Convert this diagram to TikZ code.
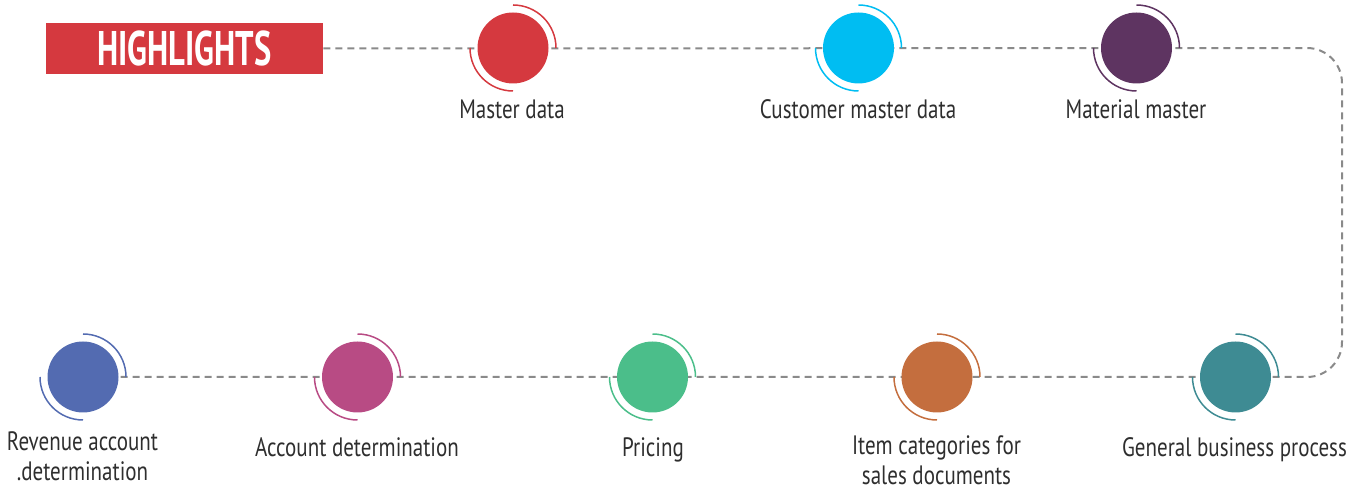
\documentclass[tikz,border=0pt]{standalone}
\usepackage{fontspec}
\usepackage{tikz}
\newfontfamily\labelfont[FakeStretch=0.79]{PT Sans}
\newfontfamily\titlefont[FakeStretch=0.67]{PT Sans}
\definecolor{hlred}{HTML}{D5393F}
\definecolor{cmdcyan}{HTML}{00BDF2}
\definecolor{mmpurple}{HTML}{5E3461}
\definecolor{gbpteal}{HTML}{3E8B93}
\definecolor{icorange}{HTML}{C46E3E}
\definecolor{prgreen}{HTML}{4BBE8A}
\definecolor{admagenta}{HTML}{B84B84}
\definecolor{radblue}{HTML}{536BB1}
\definecolor{labelgray}{HTML}{2E2E2E}
\definecolor{flowgray}{HTML}{8A8A8A}

\begin{document}
\begin{tikzpicture}[x=0.5pt, y=0.5pt,
  flow/.style = {draw=flowgray, line width=1pt,
    dash pattern=on 3.5pt off 2.5pt, rounded corners=17.5pt},
  dot/.style = {shape=circle, fill=#1, minimum size=35.5pt, inner sep=0pt},
  ring/.style = {draw=#1, line width=0.75pt},
  label/.style = {anchor=base, align=center, text=labelgray,
    font=\labelfont\fontsize{13.3}{15}\selectfont},
  title/.style = {shape=rectangle, fill=hlred, text=white,
    minimum width=138.5pt, minimum height=25.5pt, inner sep=0pt,
    font=\titlefont\bfseries\fontsize{24.3}{26}\selectfont}]
  \useasboundingbox (0,0) rectangle (1362,491);

  \node[title] (hl) at (184.5,442.5) {HIGHLIGHTS};

  \coordinate (md)  at (513,443);
  \coordinate (cmd) at (858.5,443);
  \coordinate (mm)  at (1136.5,443);
  \coordinate (gbp) at (1235.5,114);
  \coordinate (ic)  at (937,114);
  \coordinate (pr)  at (652.5,114);
  \coordinate (ad)  at (357.5,114);
  \coordinate (rad) at (83,114);
  \coordinate (bendtop) at (1342,443);
  \coordinate (bendbot) at (1342,114);

  % dashed flow behind the dots
  \draw[flow] (hl.east) -- (bendtop) -- (bendbot) -- ([xshift=18pt]rad);

  \foreach \n/\c in {md/hlred, cmd/cmdcyan, mm/mmpurple, gbp/gbpteal,
    ic/icorange, pr/prgreen, ad/admagenta, rad/radblue} {
    \node[dot=\c] (\n dot) at (\n) {};
    \draw[ring=\c] ([shift={(0:21.5pt)}]\n)
      arc[start angle=0, end angle=90, radius=21.5pt];
    \draw[ring=\c] ([shift={(180:21.5pt)}]\n)
      arc[start angle=180, end angle=270, radius=21.5pt];
  }

  \node[label] (mdl)  at (512,372)    {Master data};
  \node[label] (cmdl) at (858,372)    {Customer master data};
  \node[label] (mml)  at (1136,372)   {Material master};
  \node[label] (gbpl) at (1234.5,34.5) {General business process};
  \node[label] (icl)  at (936.5,6)    {Item categories for\\sales documents};
  \node[label] (prl)  at (653,34.5)   {Pricing};
  \node[label] (adl)  at (357,34.5)   {Account determination};
  \node[label] (radl) at (82.5,10.3)  {Revenue account\\.determination};
\end{tikzpicture}
\end{document}
